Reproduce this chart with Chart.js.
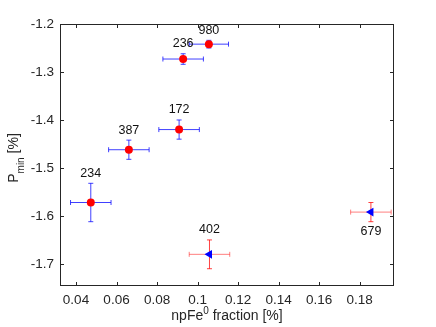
<!DOCTYPE html>
<html>
<head>
<meta charset="utf-8">
<script src="https://cdn.jsdelivr.net/npm/chart.js@4"></script>
<style>
  html, body { margin: 0; padding: 0; background: #fff; }
  #wrap { width: 436px; height: 327px; }
</style>
</head>
<body>
<div id="wrap"><canvas id="chart" width="436" height="327"></canvas></div>
<script>
'use strict';

// Messpunkte mit roten Kreisen (blaue Fehlerbalken)
const circleX = [0.1056, 0.0929, 0.0909, 0.0661, 0.0473];
const circleY = [-1.242, -1.273, -1.42, -1.462, -1.572];
const circleXErr = [0.0097, 0.01, 0.01, 0.01, 0.01];
const circleYErr = [0.008, 0.011, 0.02, 0.02, 0.04];
const circleLabels = ['980', '236', '172', '387', '234'];

// Messpunkte mit blauen Dreiecken (rote Fehlerbalken)
const triX = [0.1059, 0.1856];
const triY = [-1.68, -1.592];
const triXErr = [0.01, 0.01];
const triYErr = [0.03, 0.02];
const triLabels = ['402', '679'];
const triLabelBelow = [false, true];

// Achsen
const xTicks = [0.04, 0.06, 0.08, 0.1, 0.12, 0.14, 0.16, 0.18];
const yTicks = [-1.7, -1.6, -1.5, -1.4, -1.3, -1.2];
const xRange = [0.0321, 0.197];
const yRange = [-1.746, -1.2];

const FONT = 'Liberation Sans, Arial, Helvetica, sans-serif';
const AXIS_COLOR = '#262626';

const toPoints = (xs, ys) => xs.map((x, i) => ({ x, y: ys[i] }));

// Fehlerbalken, Beschriftungen, Rahmen und Achsentitel
const decorations = {
  id: 'decorations',
  beforeDatasetsDraw(chart) {
    const { ctx, scales } = chart;
    const xs = scales.x;
    const ys = scales.y;
    const drawErr = (px, py, ex, ey, hColor, vColor) => {
      const x = xs.getPixelForValue(px);
      const y = ys.getPixelForValue(py);
      const x0 = xs.getPixelForValue(px - ex);
      const x1 = xs.getPixelForValue(px + ex);
      const y0 = ys.getPixelForValue(py - ey);
      const y1 = ys.getPixelForValue(py + ey);
      const cap = 2.5;
      ctx.lineWidth = 1;
      ctx.strokeStyle = hColor;
      ctx.beginPath();
      ctx.moveTo(x0, y); ctx.lineTo(x1, y);
      ctx.moveTo(x0, y - cap); ctx.lineTo(x0, y + cap);
      ctx.moveTo(x1, y - cap); ctx.lineTo(x1, y + cap);
      ctx.stroke();
      ctx.strokeStyle = vColor;
      ctx.beginPath();
      ctx.moveTo(x, y0); ctx.lineTo(x, y1);
      ctx.moveTo(x - cap, y0); ctx.lineTo(x + cap, y0);
      ctx.moveTo(x - cap, y1); ctx.lineTo(x + cap, y1);
      ctx.stroke();
    };
    ctx.save();
    circleX.forEach((x, i) =>
      drawErr(x, circleY[i], circleXErr[i], circleYErr[i], 'rgba(0,0,255,0.75)', 'rgba(0,0,255,0.75)')
    );
    triX.forEach((x, i) =>
      drawErr(x, triY[i], triXErr[i], triYErr[i], 'rgba(255,0,0,0.5)', 'rgba(255,0,0,0.75)')
    );
    ctx.restore();
  },
  afterDatasetsDraw(chart) {
    const { ctx, scales } = chart;
    const xs = scales.x;
    const ys = scales.y;
    ctx.save();
    ctx.font = `12.5px ${FONT}`;
    ctx.fillStyle = '#111';
    ctx.textAlign = 'center';
    ctx.textBaseline = 'middle';
    circleX.forEach((x, i) => {
      const top = ys.getPixelForValue(circleY[i] + circleYErr[i]);
      ctx.fillText(circleLabels[i], xs.getPixelForValue(x), top - 10);
    });
    triX.forEach((x, i) => {
      const y = triLabelBelow[i]
        ? ys.getPixelForValue(triY[i] - triYErr[i]) + 10
        : ys.getPixelForValue(triY[i] + triYErr[i]) - 10;
      ctx.fillText(triLabels[i], xs.getPixelForValue(x), y);
    });
    ctx.restore();
  },
  afterDraw(chart) {
    const { ctx, chartArea: a, scales } = chart;
    ctx.save();
    // Rahmen
    ctx.strokeStyle = AXIS_COLOR;
    ctx.lineWidth = 1;
    ctx.strokeRect(a.left + 0.5, a.top + 0.5, a.right - a.left - 1, a.bottom - a.top - 1);
    // Ticks nach innen, auf allen Seiten
    const t = 4;
    ctx.beginPath();
    xTicks.forEach(v => {
      const x = Math.round(scales.x.getPixelForValue(v)) + 0.5;
      ctx.moveTo(x, a.bottom); ctx.lineTo(x, a.bottom - t);
      ctx.moveTo(x, a.top); ctx.lineTo(x, a.top + t);
    });
    yTicks.forEach(v => {
      const y = Math.round(scales.y.getPixelForValue(v)) + 0.5;
      ctx.moveTo(a.left, y); ctx.lineTo(a.left + t, y);
      ctx.moveTo(a.right, y); ctx.lineTo(a.right - t, y);
    });
    ctx.stroke();

    // x-Achsentitel: npFe^0 fraction [%]
    ctx.fillStyle = AXIS_COLOR;
    ctx.textBaseline = 'alphabetic';
    ctx.textAlign = 'left';
    const big = `14px ${FONT}`;
    const small = `10px ${FONT}`;
    ctx.font = big;
    const w1 = ctx.measureText('npFe').width;
    const w3 = ctx.measureText(' fraction [%]').width;
    ctx.font = small;
    const w2 = ctx.measureText('0').width;
    let x = (a.left + a.right) / 2 - (w1 + w2 + w3) / 2;
    const yb = 320;
    ctx.font = big;
    ctx.fillText('npFe', x, yb);
    ctx.font = small;
    ctx.fillText('0', x + w1, yb - 6);
    ctx.font = big;
    ctx.fillText(' fraction [%]', x + w1 + w2, yb);

    // y-Achsentitel: P_min [%]
    ctx.translate(18, 158);
    ctx.rotate(-Math.PI / 2);
    ctx.font = big;
    const p1 = ctx.measureText('P').width;
    const p3 = ctx.measureText(' [%]').width;
    ctx.font = small;
    const p2 = ctx.measureText('min').width;
    x = -(p1 + p2 + p3) / 2;
    ctx.font = big;
    ctx.fillText('P', x, 0);
    ctx.font = small;
    ctx.fillText('min', x + p1, 6);
    ctx.font = big;
    ctx.fillText(' [%]', x + p1 + p2, 0);
    ctx.restore();
  },
};

new Chart(document.getElementById('chart').getContext('2d'), {
  type: 'scatter',
  data: {
    datasets: [
      {
        label: 'circles',
        data: toPoints(circleX, circleY),
        pointStyle: 'circle',
        pointRadius: 4,
        backgroundColor: '#ff0000',
        borderColor: '#ff0000',
        borderWidth: 0,
      },
      {
        label: 'triangles',
        data: toPoints(triX, triY),
        pointStyle: 'triangle',
        pointRotation: -90,
        pointRadius: 5,
        backgroundColor: '#0000ff',
        borderColor: '#0000ff',
        borderWidth: 0,
      },
    ],
  },
  options: {
    responsive: false,
    animation: false,
    layout: { padding: { top: 24, right: 42, left: 0, bottom: 0 } },
    plugins: {
      legend: { display: false },
      tooltip: { enabled: false },
    },
    scales: {
      x: {
        type: 'linear',
        min: xRange[0],
        max: xRange[1],
        afterBuildTicks: scale => {
          scale.ticks = xTicks.map(value => ({ value }));
        },
        afterFit: scale => {
          scale.height = 41;
        },
        grid: { display: false, drawTicks: false },
        border: { display: false },
        ticks: {
          color: AXIS_COLOR,
          font: { family: FONT, size: 13.5 },
          padding: 6,
          maxRotation: 0,
          callback: value => String(+value.toFixed(2)),
        },
      },
      y: {
        type: 'linear',
        min: yRange[0],
        max: yRange[1],
        afterBuildTicks: scale => {
          scale.ticks = yTicks.map(value => ({ value }));
        },
        afterFit: scale => {
          scale.width = 60;
        },
        grid: { display: false, drawTicks: false },
        border: { display: false },
        ticks: {
          color: AXIS_COLOR,
          font: { family: FONT, size: 13.5 },
          padding: 6,
          callback: value => String(+value.toFixed(1)),
        },
      },
    },
  },
  plugins: [decorations],
});
</script>
</body>
</html>
